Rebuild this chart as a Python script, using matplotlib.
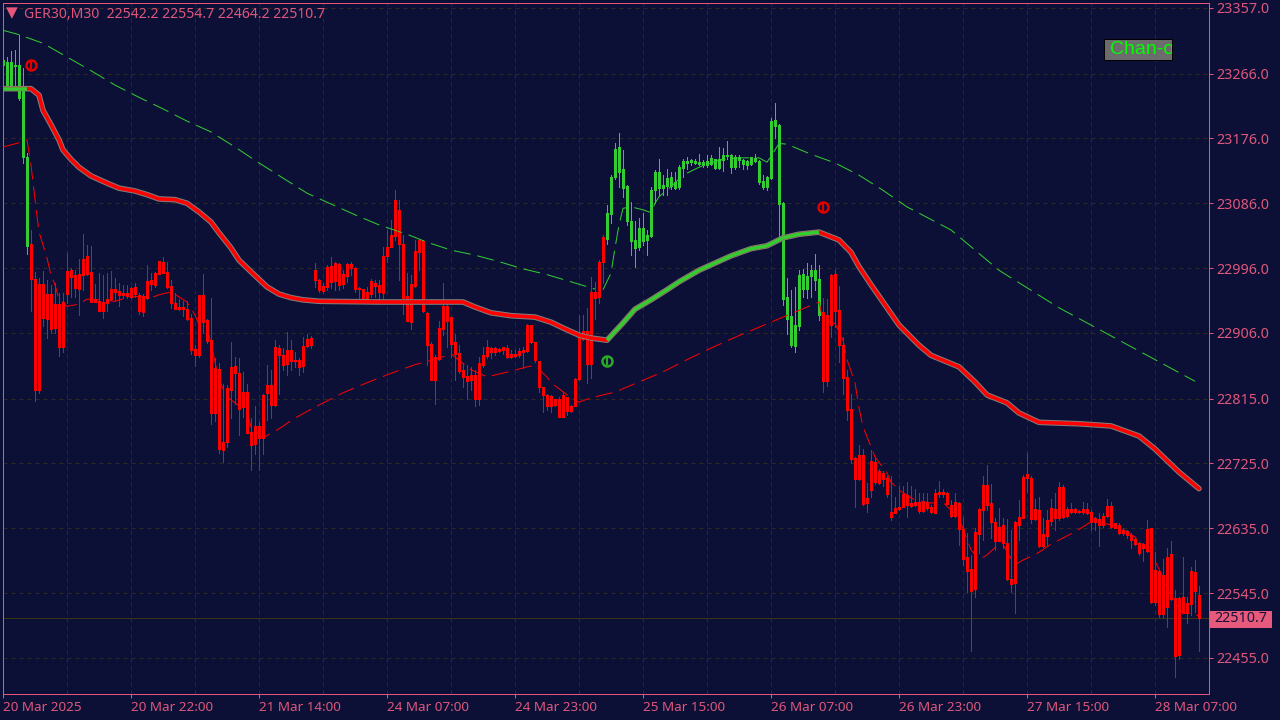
import matplotlib
matplotlib.use("Agg")
import matplotlib.pyplot as plt
from matplotlib.patches import Rectangle

plt.rcParams['font.family'] = ['Noto Sans', 'DejaVu Sans']

BG = '#0c1036'
PINK = '#e8557a'
TXT = '#e0567a'
GRID = '#2f2a20'
RED = '#ff0000'
GREEN = '#32cd32'

title = "GER30,M30  22542.2 22554.7 22464.2 22510.7"
last_price = 22510.7

body_top = [
23285,23282,23282,23278,23278,23243,23150,23030,22981,22974,
22974,22960,22960,22946,22946,22949,22992,22993,22987,22988,
23009,23013,22991,22953,22950,22949,22953,22967,22967,22964,
22962,22962,22969,22970,22959,22957,22978,22980,22989,23006,
23005,22991,22971,22948,22942,22942,22939,22927,22884,22959,
22959,22924,22896,22857,22856,22755,22830,22859,22860,22851,
22824,22824,22769,22777,22777,22820,22834,22834,22887,22885,
22876,22882,22882,22869,22869,22888,22898,22899,22993,22979,
22971,22997,22999,23003,23002,22988,23002,23002,22996,22968,
22967,22963,22978,22976,22972,23013,23026,23042,23091,23077,
23029,22957,22974,23020,23035,23034,22934,22891,22872,22913,
22943,22943,22928,22893,22878,22854,22846,22848,22848,22864,
22875,22887,22885,22885,22884,22887,22885,22877,22877,22881,
22882,22917,22917,22893,22867,22831,22820,22818,22814,22814,
22820,22817,22805,22842,22903,22909,22909,22963,22963,23004,
23039,23072,23122,23161,23164,23133,23110,23061,23035,23051,
23051,23042,23105,23129,23130,23111,23121,23122,23115,23137,
23144,23144,23146,23144,23143,23143,23144,23149,23147,23147,
23153,23153,23153,23150,23150,23146,23144,23150,23149,23144,
23117,23122,23200,23201,23194,23087,22956,22929,22917,22986,
22988,22985,22993,22993,22981,22935,22931,22986,22988,22938,
22890,22845,22801,22733,22737,22737,22677,22729,22727,22715,
22712,22705,22658,22663,22665,22683,22681,22670,22672,22672,
22672,22672,22665,22684,22686,22686,22684,22667,22672,22670,
22634,22595,22578,22630,22662,22695,22695,22670,22644,22637,
22640,22615,22565,22644,22651,22706,22710,22705,22662,22660,
22627,22646,22663,22662,22692,22692,22662,22662,22662,22659,
22662,22662,22658,22649,22648,22652,22666,22666,22642,22640,
22633,22631,22626,22620,22614,22613,22634,22635,22577,22576,
22570,22595,22599,22538,22538,22539,22531,22576,22574,22542]

body_bottom = [
23278,23246,23247,23277,23232,23150,23027,22981,22827,22827,
22927,22925,22912,22913,22887,22887,22960,22983,22969,22967,
22987,22988,22949,22949,22937,22937,22948,22953,22963,22959,
22959,22957,22956,22960,22937,22935,22955,22974,22973,22988,
22989,22970,22948,22939,22939,22939,22925,22882,22876,22876,
22921,22895,22795,22795,22745,22744,22755,22827,22851,22801,
22803,22767,22751,22752,22760,22760,22823,22806,22806,22876,
22862,22863,22867,22867,22859,22860,22888,22889,22979,22965,
22964,22970,22977,22978,22972,22974,22985,22996,22967,22967,
22954,22952,22960,22971,22963,22961,23013,23026,23041,23029,
22954,22923,22921,22971,23018,22936,22889,22841,22841,22870,
22911,22923,22891,22877,22853,22845,22839,22841,22814,22814,
22861,22874,22880,22880,22881,22882,22873,22873,22874,22875,
22880,22881,22893,22868,22831,22820,22805,22805,22806,22790,
22790,22798,22798,22805,22842,22898,22863,22863,22954,22956,
23004,23037,23071,23122,23130,23107,23061,23033,23024,23025,
23033,23035,23040,23104,23107,23107,23110,23110,23107,23108,
23135,23142,23143,23142,23140,23139,23139,23140,23135,23135,
23146,23151,23137,23137,23146,23140,23139,23140,23144,23115,
23108,23108,23121,23193,23085,22953,22926,22890,22888,22915,
22967,22967,22985,22979,22931,22839,22839,22917,22936,22890,
22844,22799,22731,22704,22704,22669,22670,22688,22699,22698,
22704,22683,22651,22656,22662,22665,22667,22666,22667,22659,
22659,22663,22658,22656,22683,22683,22669,22652,22652,22634,
22592,22576,22548,22551,22627,22660,22667,22644,22618,22618,
22614,22565,22558,22559,22640,22649,22705,22648,22648,22610,
22610,22624,22645,22649,22649,22650,22652,22658,22658,22658,
22658,22656,22644,22644,22640,22640,22652,22637,22636,22628,
22628,22626,22619,22613,22601,22607,22603,22533,22533,22516,
22516,22526,22537,22458,22459,22517,22517,22530,22548,22511]

highs = [
23308,23289,23297,23299,23320,23274,23156,23049,22991,22982,
22992,22980,22973,22975,22961,22961,23017,22996,22993,23008,
23043,23028,23027,22974,22989,22987,22989,22992,22982,22975,
22973,22973,22970,22975,22962,22960,23000,22989,22990,23006,
23011,23005,22980,22961,22953,22950,22950,22932,22889,22959,
22988,22926,22954,22871,22864,22835,22834,22893,22873,22871,
22852,22835,22788,22804,22783,22822,22861,22854,22896,22889,
22885,22907,22896,22880,22871,22901,22905,22902,23003,22981,
22975,23000,23012,23005,23003,22993,23003,23005,22998,22970,
22967,22970,22981,22979,22979,23025,23049,23063,23104,23091,
23042,22989,22986,23035,23037,23035,22935,22894,22875,22922,
22975,22947,22928,22905,22889,22864,22861,22859,22854,22873,
22887,22896,22887,22887,22885,22887,22889,22882,22882,22885,
22887,22919,22917,22894,22867,22831,22822,22820,22815,22817,
22824,22817,22806,22843,22931,22931,22940,22983,22977,23007,
23042,23083,23125,23170,23184,23160,23111,23088,23062,23065,
23072,23049,23109,23132,23147,23125,23133,23130,23130,23139,
23148,23150,23148,23147,23155,23146,23153,23153,23148,23164,
23162,23173,23155,23153,23153,23147,23146,23150,23155,23146,
23125,23124,23204,23225,23196,23088,22982,22965,22970,22993,
22995,23003,23000,23016,23000,22954,22953,22988,22994,22971,
22901,22855,22822,22734,22750,22745,22698,22744,22734,22717,
22714,22707,22707,22679,22693,22693,22699,22694,22689,22684,
22684,22684,22667,22689,22701,22689,22686,22674,22684,22672,
22651,22628,22598,22635,22663,22707,22723,22697,22649,22663,
22649,22648,22633,22645,22674,22709,22740,22707,22676,22679,
22649,22660,22676,22684,22699,22695,22665,22670,22663,22661,
22672,22670,22660,22651,22656,22656,22676,22672,22642,22642,
22635,22633,22628,22622,22616,22614,22646,22636,22602,22577,
22593,22607,22618,22549,22540,22595,22540,22581,22591,22555]

lows = [
23278,23246,23247,23246,23229,23142,23016,22936,22812,22823,
22915,22899,22906,22906,22874,22880,22947,22956,22956,22931,
22966,22987,22949,22950,22936,22927,22936,22952,22950,22944,
22954,22954,22954,22956,22932,22930,22953,22966,22970,22988,
22989,22968,22940,22939,22938,22930,22924,22877,22860,22873,
22906,22892,22780,22784,22739,22727,22748,22788,22808,22765,
22790,22767,22716,22738,22716,22738,22785,22788,22804,22821,
22855,22847,22855,22859,22848,22852,22887,22885,22970,22963,
22961,22965,22968,22966,22965,22968,22977,22986,22963,22954,
22952,22949,22956,22956,22952,22954,23005,23025,23035,22979,
22933,22922,22912,22970,22993,22935,22861,22841,22808,22868,
22903,22887,22873,22841,22850,22831,22815,22827,22804,22806,
22859,22871,22871,22875,22880,22877,22871,22871,22872,22873,
22857,22880,22892,22866,22824,22797,22799,22797,22804,22789,
22789,22792,22797,22804,22841,22896,22836,22843,22925,22947,
22975,23030,23058,23120,23109,23095,23056,23014,22998,23021,
23028,23014,23039,23086,23097,23097,23097,23106,23106,23106,
23123,23134,23139,23140,23139,23136,23136,23139,23134,23134,
23131,23148,23128,23134,23136,23134,23133,23139,23143,23113,
23106,23104,23120,23176,23039,22945,22905,22887,22879,22910,
22956,22954,22956,22965,22924,22824,22833,22901,22914,22866,
22822,22785,22726,22665,22702,22667,22657,22679,22697,22696,
22693,22679,22647,22656,22660,22664,22650,22665,22666,22656,
22658,22660,22656,22656,22679,22679,22669,22651,22651,22612,
22584,22547,22464,22540,22600,22619,22660,22621,22605,22617,
22607,22563,22547,22517,22619,22649,22686,22642,22647,22609,
22609,22612,22640,22633,22647,22649,22651,22656,22656,22656,
22655,22655,22633,22632,22610,22637,22651,22636,22635,22627,
22626,22622,22607,22612,22598,22590,22602,22531,22528,22512,
22510,22498,22535,22429,22454,22517,22503,22514,22519,22464]

green_bars = [(0, 6), (151, 204)]

ma_idx = [0,6,7,9,10,12,14,15,17,19,22,26,29,33,36,39,43,46,49,52,54,57,59,62,66,69,72,75,79,94,115,118,122,127,133,137,140,144,147,151,
          155,158,162,166,169,174,182,187,191,195,199,204,
          209,212,214,217,220,224,229,232,239,243,246,251,254,259,269,277,284,288,294,299]
ma_val = [23245,23245,23245,23236,23215,23195,23174,23160,23147,23136,23124,23114,23107,23103,23098,23092,23091,23086,23074,23060,23045,23024,23007,22991,22970,22960,22955,22952,22950,22949,22949,22942,22934,22930,22928,22921,22913,22903,22899,22896,
          22920,22939,22952,22966,22977,22993,23013,23023,23027,23038,23043,23046,
          23035,23018,22998,22973,22949,22917,22889,22875,22859,22838,22820,22809,22795,22782,22780,22777,22763,22745,22713,22690]
ma_green_spans = [(0, 6), (151, 204)]

thin_green1_idx = [0,4,10,16,22,28,34,40,46,52,58,64,70,76,88,94,101,106,112,118,124,130,136,142,148]
thin_green1_val = [23326,23320,23308,23289,23270,23250,23233,23217,23200,23185,23164,23142,23121,23100,23070,23056,23043,23032,23021,23014,23005,22995,22987,22977,22967]
thin_green2_idx = [150,152,153,154,155,157,160,162,163,164,167,170,174,179,184,189,191,193,194,196,202,208,214,220,226,237,249,264,279,298]
thin_green2_val = [22966,22989,23024,23056,23079,23081,23077,23073,23086,23095,23109,23125,23136,23146,23149,23149,23143,23160,23169,23168,23154,23142,23125,23104,23081,23049,22993,22941,22896,22839]

thin_red_idx = [0,4,6,7,8,9,11,12,13,14,16,19,21,24,28,31,34,37,39,42,44,46,48,49,51,52,53,54,56,58,61,62,65,
                67,69,73,75,79,85,91,97,103,109,112,117,121,127,131,133,136,137,142,144,147,153,159,165,171,177,183,189,195,201,204,
                205,208,210,211,213,214,215,217,218,221,222,224,228,232,235,239,242,244,246,248,250,253,255,258,262,268,272,276,279,283,287,290,292,295,298,299]
thin_red_val = [23164,23170,23174,23139,23091,23046,23010,22986,22973,22952,22943,22946,22953,22952,22950,22955,22957,22955,22959,22963,22956,22949,22931,22917,22913,22892,22866,22841,22817,22809,22796,22776,22760,
                22767,22773,22788,22794,22806,22823,22837,22850,22862,22871,22877,22855,22845,22853,22859,22861,22845,22837,22816,22810,22816,22824,22838,22852,22869,22885,22900,22914,22928,22942,22949,
                22924,22919,22896,22869,22837,22802,22776,22748,22734,22712,22699,22688,22674,22670,22671,22649,22605,22591,22598,22608,22612,22584,22591,22598,22613,22630,22644,22641,22637,22623,22601,22567,22540,22517,22517,22512]

sig_down_idx = [7, 205]
sig_down_val = [23278, 23081]
sig_up_idx = [151]
sig_up_val = [22867]

y_ticks = [23357, 23266, 23176, 23086, 22996, 22906, 22815, 22725, 22635, 22545, 22455]
x_tick_pos = [0, 32, 64, 96, 128, 160, 192, 224, 256, 288]
x_grid_pos = [16, 48, 80, 112, 144, 176, 208, 240, 272]
x_tick_labels = ["20 Mar 2025", "20 Mar 22:00", "21 Mar 14:00", "24 Mar 07:00", "24 Mar 23:00",
                 "25 Mar 15:00", "26 Mar 07:00", "26 Mar 23:00", "27 Mar 15:00", "28 Mar 07:00"]

W, H = 1280, 720
PX = 72 / 100
fig = plt.figure(figsize=(12.8, 7.2), dpi=100, facecolor=BG)
ax = fig.add_axes([2.5 / W, 1 - 693.5 / H, 1206 / W, 691 / H], facecolor=BG)

for s in ax.spines.values():
    s.set_color(PINK)
    s.set_linewidth(PX)

ax.set_xticks(x_tick_pos)
ax.set_xticklabels(x_tick_labels, ha='left')
ax.set_xticks(x_grid_pos, minor=True)
ax.yaxis.tick_right()
ax.set_yticks(y_ticks)
ax.set_yticklabels([f"{v:.1f}" for v in y_ticks])
ax.tick_params(axis='x', which='major', colors=PINK, labelcolor=TXT, labelsize=9.7,
               length=4 * PX, width=PX, pad=2.5)
ax.tick_params(axis='y', which='major', colors=PINK, labelcolor=TXT, labelsize=10.3,
               length=4 * PX, width=PX, pad=3)
ax.tick_params(axis='x', which='minor', length=0)
ax.grid(True, which='both', color=GRID, linewidth=PX, linestyle=(0, (4, 4)))
ax.set_axisbelow(True)

ax.axhline(last_price, color='#3a3612', linewidth=PX, zorder=1.5)

colors = []
for i in range(len(highs)):
    colors.append(GREEN if any(a <= i <= b for a, b in green_bars) else RED)
xs = list(range(len(highs)))
ax.vlines(xs, lows, highs, colors=colors, linewidth=PX, antialiased=False, capstyle='butt', zorder=2)
ax.vlines(xs, body_bottom, body_top, colors=colors, linewidth=3 * PX, antialiased=False, capstyle='butt', zorder=2.1)


def thin(xv, yv, c):
    ax.plot(xv, yv, color=c, linewidth=PX, dashes=(17, 7), zorder=3, dash_capstyle='butt')


thin(thin_green1_idx, thin_green1_val, GREEN)
thin(thin_green2_idx, thin_green2_val, GREEN)
thin(thin_red_idx, thin_red_val, RED)

ax.plot(ma_idx, ma_val, color='#808080', linewidth=5.6 * PX, zorder=4, solid_capstyle='round')
ax.plot(ma_idx, ma_val, color=RED, linewidth=3.6 * PX, zorder=4.1, solid_capstyle='round')
for a, b in ma_green_spans:
    sx = [i for i in ma_idx if a <= i <= b]
    sy = [v for i, v in zip(ma_idx, ma_val) if a <= i <= b]
    ax.plot(sx, sy, color=GREEN, linewidth=3.6 * PX, zorder=4.2, solid_capstyle='butt')

ax.plot(sig_down_idx, sig_down_val, ls='none', marker='o', mfc='none', mec='#e00000', ms=7.2, mew=1.8, zorder=5)
ax.plot(sig_down_idx, sig_down_val, ls='none', marker='|', mec='#e00000', ms=6, mew=1.6, zorder=5)
ax.plot(sig_down_idx, sig_down_val, ls='none', marker='_', mec=BG, ms=3, mew=1.2, zorder=4.9)
ax.plot(sig_up_idx, sig_up_val, ls='none', marker='o', mfc='none', mec='#2aa82a', ms=7.2, mew=1.8, zorder=5)
ax.plot(sig_up_idx, sig_up_val, ls='none', marker='|', mec='#2aa82a', ms=6, mew=1.6, zorder=5)

# limits last, since set_xticks can widen the view
ax.set_xlim(-0.125, 301.375)
ax.set_ylim(22405.7, 23364.6)

# header
fig.text(24 / W, 1 - 14 / H, title, color=TXT, fontsize=10.1, va='center', ha='left')
fig.text(12 / W, 1 - 12.5 / H, "\u25BC", color=PINK, fontsize=11, va='center', ha='center',
         family=['DejaVu Sans'])

# last price tag
tag = Rectangle((1210 / W, 1 - 627.5 / H), 62 / W, 17 / H, transform=fig.transFigure,
                facecolor='#e85a7c', edgecolor='none', zorder=10)
fig.add_artist(tag)
fig.text(1241 / W, 1 - 619 / H, f"{last_price:.1f}", color='#15123a', fontsize=10.3,
         va='center', ha='center', zorder=11)

# Chan-o box
box = Rectangle((1104 / W, 1 - 59.5 / H), 68 / W, 20 / H, transform=fig.transFigure,
                facecolor='#6c6c6c', edgecolor='#000000', linewidth=PX, zorder=10)
fig.add_artist(box)
lbl = fig.text(1110 / W, 1 - 49.5 / H, "Chan-o", color='#00ff00', fontsize=14, va='center', ha='left',
               family=['Liberation Sans'], zorder=11)
lbl.set_clip_path(box)
lbl.set_clip_on(True)

fig.savefig("out.png", dpi=100, facecolor=BG)
